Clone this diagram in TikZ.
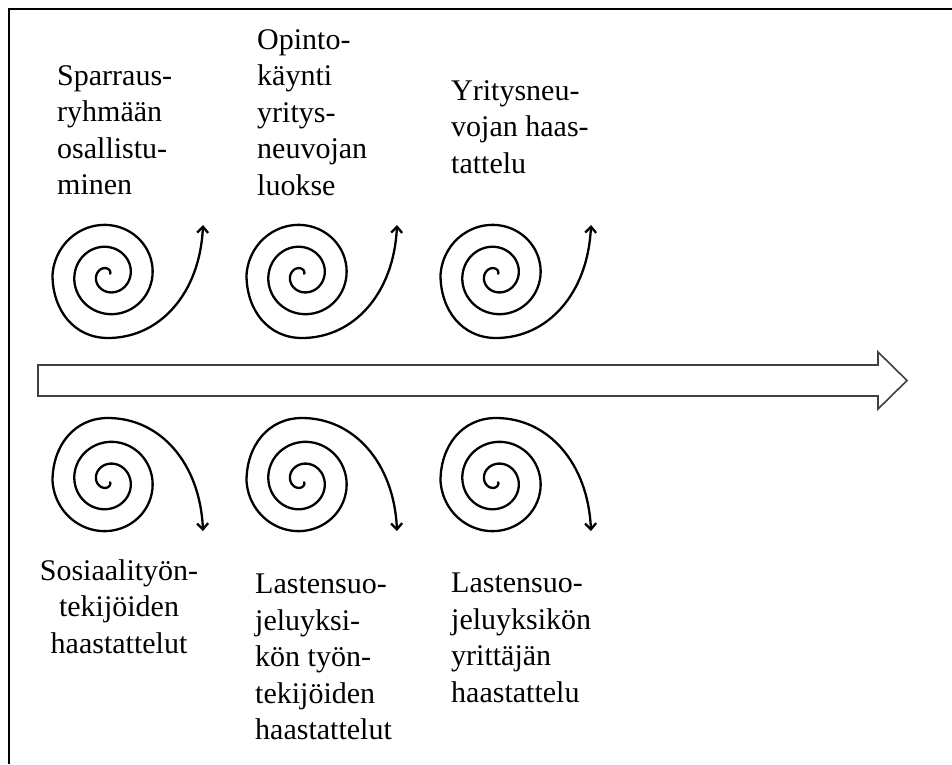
\documentclass[tikz,border=0pt]{standalone}
\usepackage{fontspec}
\setmainfont{Liberation Serif}
\usepackage{tikz}
\usetikzlibrary{arrows.meta}

\begin{document}
\begin{tikzpicture}[x=1pt,y=-1pt,>={Straight Barb[length=6pt,width=11pt]},
  every node/.style={font=\fontsize{30}{36.5}\selectfont,inner sep=0pt},
  lbl/.style={align=left,anchor=north west},
  swirl/.style={line width=2.3pt,->,line cap=round},
  band/.style={line width=1.6pt,draw=black!75,line join=miter}]
  \useasboundingbox (0,0) rectangle (952,764);
  % frame (runs off the right and bottom edge)
  \draw[line width=2.2pt] (9,764) |- (952,9);
  % time line
  \draw[band] (38,365) -- (878,365) -- (878,352) -- (907,380.5)
    -- (878,409) -- (878,396) -- (38,396) -- cycle;
  % spirals, top row turned up, bottom row mirrored
  \foreach \cy/\fl in {275/-1,481/1}
    \foreach \cx in {108,302,496}
      \draw[swirl,shift={(\cx,\cy)},yscale=\fl]
        plot[domain=30:900,samples=160,smooth,variable=\t]
          ({(0.061*\t+0.6)*cos(\t)},{(0.061*\t+0.6)*sin(\t)})
        .. controls (-55.5,-35) and (-34,-63) .. (0,-63)
        .. controls (52,-63) and (92,-18) .. (95,50);
  % labels
  \node[lbl] (top1) at (57,65) {Sparraus-\\ryhmään\\osallistu-\\minen};
  \node[lbl] (top2) at (257,29) {Opinto-\\käynti\\yritys-\\neuvojan\\luokse};
  \node[lbl] (top3) at (451,80) {Yritysneu-\\vojan haas-\\tattelu};
  \node[lbl,align=center,anchor=north] (bot1) at (119,559)
    {Sosiaalityön-\\tekijöiden\\haastattelut};
  \node[lbl] (bot2) at (255,574)
    {Lastensuo-\\jeluyksi-\\kön työn-\\tekijöiden\\haastattelut};
  \node[lbl] (bot3) at (451,573)
    {Lastensuo-\\jeluyksikön\\yrittäjän\\haastattelu};
\end{tikzpicture}
\end{document}
